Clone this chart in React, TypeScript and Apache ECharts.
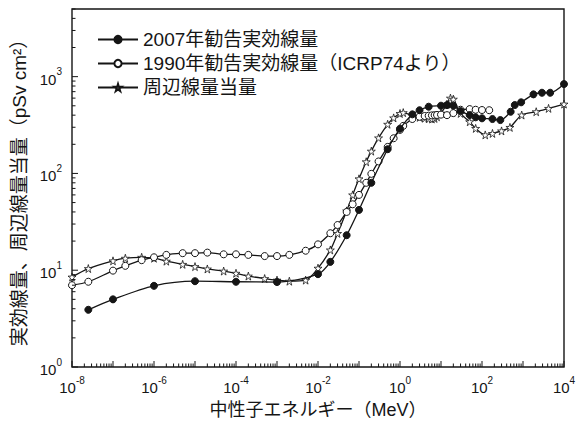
import React, { useEffect, useRef } from "react";
import * as echarts from "echarts";

// ---- data (energy in MeV, dose coefficient in pSv cm²) ----
const seriesNames = ["2007年勧告実効線量", "1990年勧告実効線量（ICRP74より）", "周辺線量当量"];

const energy2007 = [2.5e-8, 1e-7, 1e-6, 1e-5, 1e-4, 1e-3, 1e-2, 2e-2, 5e-2, 0.1, 0.2, 0.5, 1, 2, 3, 5, 10, 14, 20, 30, 50, 70, 100, 180, 280, 500, 630, 900, 1800, 2900, 4600, 10000];
const dose2007 = [3.9, 5.0, 6.9, 7.7, 7.6, 7.55, 9.1, 12.2, 23, 42, 80, 178, 290, 408, 450, 489, 501, 508, 501, 441, 401, 380, 371, 365, 356, 434, 509, 543, 656, 682, 682, 838];

const energy1990 = [1e-8, 2.5e-8, 1e-7, 2e-7, 5e-7, 1e-6, 2e-6, 5e-6, 1e-5, 2e-5, 5e-5, 1e-4, 2e-4, 5e-4, 1e-3, 2e-3, 5e-3, 1e-2, 2e-2, 3e-2, 5e-2, 0.07, 0.1, 0.15, 0.2, 0.3, 0.5, 0.7, 1, 1.2, 2, 3, 4, 5, 6, 7, 8, 10, 14, 20, 30, 50, 70, 100, 150];
const dose1990 = [7.0, 7.6, 9.9, 11.1, 12.7, 13.6, 14.4, 15.0, 15.0, 15.2, 14.6, 14.6, 14.4, 14.0, 14.0, 14.4, 15.9, 18.5, 24.1, 29.3, 40, 48, 60, 80, 99, 133, 188, 231, 282, 310, 365, 385, 392, 395, 398, 400, 402, 405, 400, 420, 455, 462, 455, 452, 450];

const energyAmb = [1e-8, 2.5e-8, 1e-7, 2e-7, 5e-7, 1e-6, 2e-6, 5e-6, 1e-5, 2e-5, 5e-5, 1e-4, 2e-4, 5e-4, 1e-3, 2e-3, 5e-3, 1e-2, 2e-2, 3e-2, 5e-2, 0.07, 0.1, 0.15, 0.2, 0.3, 0.5, 0.7, 1, 1.2, 2, 3, 4, 5, 6, 7, 8, 10, 14, 17, 20, 30, 50, 70, 120, 180, 300, 480, 930, 2100, 4200, 10000];
const doseAmb = [8.5, 10.4, 12.5, 13.3, 13.6, 13.3, 12.4, 11.5, 10.9, 10.3, 9.8, 9.3, 8.7, 8.2, 7.9, 7.7, 7.9, 10.5, 16.2, 24, 41, 60, 88, 132, 170, 233, 322, 375, 416, 425, 395, 380, 372, 368, 365, 370, 385, 420, 520, 600, 585, 417, 342, 292, 250, 259, 275, 299, 401, 434, 470, 521];

const xDecades = [-8, -7, -6, -5, -4, -3, -2, -1, 0, 1, 2, 3, 4];
const yDecades = [0, 1, 2, 3];
const X_MIN = 1e-8;
const X_MAX = 1e4;
const X_EXP_MIN = -8;
const X_EXP_MAX = 4;
const X_LABEL_STEP = 2;
const Y_MIN = 1;
const Y_MAX = 5000;

const FONT = "'Liberation Sans', 'Noto Sans CJK JP', sans-serif";
const INK = "#151515";
const STAR = "path://M50,0 L61,35 L98,35 L68,57 L79,91 L50,70 L21,91 L32,57 L2,35 L39,35 Z";

function pairs(xs: number[], ys: number[]) {
  return xs.map((x, i) => [x, ys[i]]);
}

// tick positions (1..9 × 10^k) for hand-drawn log ticks
function logTicks(decades: number[], maxVal: number) {
  const out: number[][] = [];
  decades.forEach((d) => {
    for (let m = 1; m <= 9; m++) {
      const v = m * Math.pow(10, d);
      if (v <= maxVal * 1.0001) out.push([v, m === 1 ? 1 : 0]);
    }
  });
  return out;
}

function supLabelFromValue(v: number) {
  const l = Math.log10(v);
  const e = Math.round(l);
  if (Math.abs(l - e) > 1e-6) return "";
  return `{b|10}{s|${e}}`;
}

export default function App() {
  const ref = useRef<HTMLDivElement>(null);
  useEffect(() => {
    if (!ref.current) return;
    const chart = echarts.init(ref.current, undefined, { renderer: "svg" });
    const xt = logTicks(xDecades, X_MAX).map((t) => [t[0], Y_MIN, t[1]]);
    const yt = logTicks(yDecades, Y_MAX).map((t) => [X_MIN, t[0], t[1]]);
    const rich = {
      b: { fontSize: 15, fontFamily: FONT, color: INK, lineHeight: 20, verticalAlign: "bottom" },
      s: { fontSize: 10, fontFamily: FONT, color: INK, lineHeight: 10, verticalAlign: "top" },
    };
    const lineBase = { type: "line", smooth: 0.3, clip: true, lineStyle: { color: INK, width: 1.3 } };
    chart.setOption({
      animation: false,
      textStyle: { fontFamily: FONT, color: INK },
      grid: { left: 72, right: 16, top: 9, bottom: 59, show: true, borderColor: INK, borderWidth: 1.4, backgroundColor: "transparent" },
      legend: {
        data: seriesNames,
        orient: "vertical",
        left: 97,
        top: 30,
        padding: 0,
        itemWidth: 40,
        itemHeight: 9,
        itemGap: 5,
        textStyle: { fontSize: 19, fontFamily: FONT, color: INK },
      },
      xAxis: [
        {
          type: "log",
          logBase: 10,
          min: X_MIN,
          max: X_MAX,
          name: "中性子エネルギー（MeV）",
          nameLocation: "middle",
          nameGap: 34,
          nameTextStyle: { fontSize: 18, fontFamily: FONT, color: INK },
          axisLine: { show: false },
          axisTick: { show: false },
          splitLine: { show: false },
          axisLabel: { show: false },
        },
        {
          // label-only axis in decades (log10 of energy)
          type: "value",
          position: "bottom",
          min: X_EXP_MIN,
          max: X_EXP_MAX,
          interval: X_LABEL_STEP,
          axisLine: { show: false },
          axisTick: { show: false },
          splitLine: { show: false },
          axisLabel: { margin: 8, formatter: (e: number) => `{b|10}{s|${e}}`, rich },
        },
      ],
      yAxis: {
        type: "log",
        logBase: 10,
        min: Y_MIN,
        max: Y_MAX,
        splitNumber: 4,
        name: "実効線量、周辺線量当量（pSv cm²）",
        nameLocation: "middle",
        nameRotate: 90,
        nameGap: 37,
        nameTextStyle: { fontSize: 19, fontFamily: FONT, color: INK },
        axisLine: { show: false },
        axisTick: { show: false },
        splitLine: { show: false },
        axisLabel: { margin: 10, formatter: (v: number) => supLabelFromValue(v), rich },
      },
      series: [
        {
          ...lineBase,
          name: seriesNames[0],
          z: 5,
          symbol: "circle",
          symbolSize: 7,
          itemStyle: { color: INK, borderColor: INK, borderWidth: 1 },
          data: pairs(energy2007, dose2007),
        },
        {
          ...lineBase,
          name: seriesNames[1],
          z: 4,
          symbol: "circle",
          symbolSize: 7,
          showAllSymbol: true,
          itemStyle: { color: "#ffffff", borderColor: INK, borderWidth: 1 },
          data: pairs(energy1990, dose1990),
        },
        {
          ...lineBase,
          name: seriesNames[2],
          z: 3,
          symbol: STAR,
          symbolSize: 8,
          showAllSymbol: true,
          itemStyle: { color: "#ffffff", borderColor: INK, borderWidth: 0.8 },
          data: pairs(energyAmb, doseAmb),
        },
        {
          type: "custom",
          silent: true,
          z: 6,
          data: xt,
          encode: { x: 0, y: 1 },
          renderItem: (params: any, api: any) => {
            const p = api.coord([api.value(0), Y_MIN]);
            const len = api.value(2) ? 6 : 3.5;
            return { type: "line", shape: { x1: p[0], y1: p[1], x2: p[0], y2: p[1] - len }, style: { stroke: INK, lineWidth: 1 } };
          },
        },
        {
          type: "custom",
          silent: true,
          z: 6,
          data: yt,
          encode: { x: 0, y: 1 },
          renderItem: (params: any, api: any) => {
            const p = api.coord([X_MIN, api.value(1)]);
            const len = api.value(2) ? 6 : 3.5;
            return { type: "line", shape: { x1: p[0], y1: p[1], x2: p[0] + len, y2: p[1] }, style: { stroke: INK, lineWidth: 1 } };
          },
        },
      ],
    });
    return () => chart.dispose();
  }, []);
  return <div ref={ref} style={{ position: "absolute", left: 0, top: 0, width: 580, height: 426, background: "#fff" }} />;
}
